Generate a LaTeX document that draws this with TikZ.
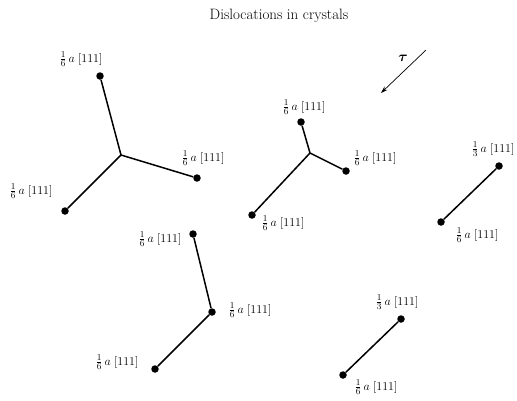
\documentclass[tikz,border=0pt]{standalone}
\usepackage{amsmath,bm}
\usetikzlibrary{arrows.meta}
\tikzset{
  dot/.style={circle,fill=black,inner sep=0pt,minimum size=7.5pt},
  seg/.style={line width=1.5pt},
  lab/.style={inner sep=0pt,font=\fontsize{13}{15}\selectfont},
}
\newcommand{\bv}[2]{$\frac{#1}{#2}\,a\;[111]$}
\begin{document}
\begin{tikzpicture}[x=1pt,y=-1pt]
\useasboundingbox (0,0) rectangle (517,400);
\node[font=\fontsize{15}{18}\selectfont,inner sep=0pt] (title) at (279,16) {Dislocations in crystals};
% shear stress arrow
\coordinate (t1) at (426,50);
\coordinate (t2) at (381,93);
\draw[line width=0.7pt,-{Stealth[length=7pt,width=4.5pt]}] (t1) -- (t2);
\node[inner sep=0pt,font=\fontsize{14}{16}\selectfont] (tau) at (403,58) {$\bm{\tau}$};
% group 1
\coordinate (j1) at (121,155);
\node[dot] (a1) at (100,76) {};
\node[dot] (a2) at (197,178) {};
\node[dot] (a3) at (65,211) {};
\draw[seg] (j1) -- (a1) (j1) -- (a2) (j1) -- (a3);
\node[lab] (la1) at (81,59) {\bv16};
\node[lab] (la2) at (203,158) {\bv16};
\node[lab] (la3) at (31,191) {\bv16};
% group 2
\coordinate (j2) at (310,153);
\node[dot] (b1) at (301,122) {};
\node[dot] (b2) at (346,171) {};
\node[dot] (b3) at (252,215) {};
\draw[seg] (j2) -- (b1) (j2) -- (b2) (j2) -- (b3);
\node[lab] (lb1) at (304,107) {\bv16};
\node[lab] (lb2) at (375,158) {\bv16};
\node[lab] (lb3) at (283,223) {\bv16};
% group 3
\node[dot] (c1) at (499,166) {};
\node[dot] (c2) at (441,222) {};
\draw[seg] (c1) -- (c2);
\node[lab] (lc1) at (493,149) {\bv13};
\node[lab] (lc2) at (477,235) {\bv16};
% group 4
\node[dot] (d1) at (193,234) {};
\node[dot] (d2) at (212,312) {};
\node[dot] (d3) at (155,369) {};
\draw[seg] (d1) -- (d2) -- (d3);
\node[lab] (ld1) at (160,239) {\bv16};
\node[lab] (ld2) at (250,310) {\bv16};
\node[lab] (ld3) at (117,362) {\bv16};
% group 5
\node[dot] (e1) at (401,319) {};
\node[dot] (e2) at (343,375) {};
\draw[seg] (e1) -- (e2);
\node[lab] (le1) at (397,302) {\bv13};
\node[lab] (le2) at (376,387) {\bv16};
\end{tikzpicture}
\end{document}
